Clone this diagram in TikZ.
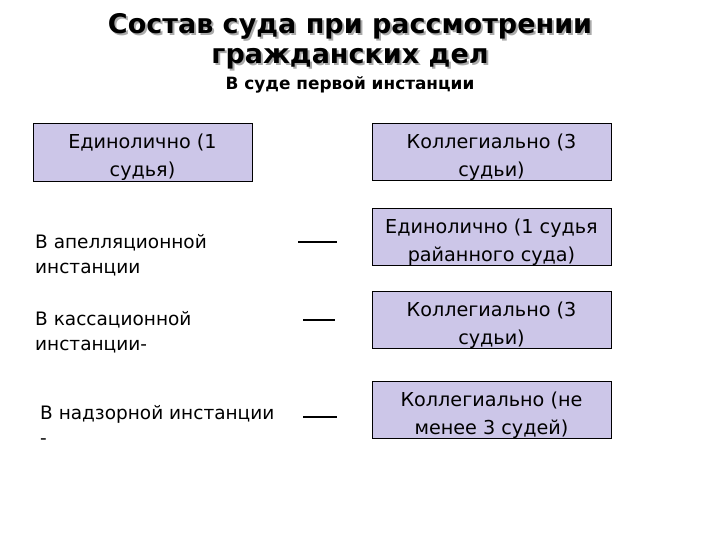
\documentclass[tikz,border=0pt]{standalone}
\usepackage{fontspec}
\setmainfont{DejaVu Sans}
\definecolor{boxfill}{RGB}{204,198,232}
\definecolor{shadowgray}{RGB}{170,170,170}
\newcommand{\cellstrut}{\rule{0pt}{25pt}}
\begin{document}
\begin{tikzpicture}[x=1pt,y=-1pt,
  cell/.style={draw=black, line width=0.9pt, fill=boxfill, minimum width=239pt,
    minimum height=56pt, align=center, inner sep=0pt,
    font=\fontsize{19.2}{28}\selectfont},
  side/.style={anchor=west, align=left, inner sep=0pt,
    font=\fontsize{18.5}{25}\selectfont},
  dashline/.style={line width=2.2pt},
  ttl/.style={align=center, inner sep=0pt, font=\bfseries\fontsize{27}{30}\selectfont},
  sub/.style={inner sep=0pt, font=\bfseries\fontsize{16.9}{20}\selectfont}]
\useasboundingbox[fill=white] (0,0) rectangle (720,540);

% title with shadow
\node[ttl, text=shadowgray] (titleshadow) at (352,43) {Состав суда при рассмотрении\\гражданских дел};
\node[ttl] (title) at (350,41) {Состав суда при рассмотрении\\гражданских дел};
\node[sub, anchor=base] (subtitle) at (350,90) {В суде первой инстанции};

% boxes
\node[cell, minimum width=219pt, minimum height=58pt] (b1) at (142.5,152) {\cellstrut Единолично (1\\судья)};
\node[cell, minimum height=57pt] (b2) at (491.5,151.5) {\cellstrut Коллегиально (3\\судьи)};
\node[cell, minimum height=55pt] (b3) at (491.5,236.5) {\cellstrut Единолично (1 судья\\райанного суда)};
\node[cell] (b4) at (491.5,320) {\cellstrut Коллегиально (3\\судьи)};
\node[cell] (b5) at (491.5,410) {\cellstrut Коллегиально (не\\менее 3 судей)};

% left labels
\node[side] (l1) at (35,255) {В апелляционной\\инстанции};
\node[side] (l2) at (35,332.5) {В кассационной\\инстанции-};
\node[side] (l3) at (40,425) {В надзорной инстанции\\-};

% dashes
\coordinate (d1a) at (298,242); \coordinate (d1b) at (337,242);
\coordinate (d2a) at (303,320); \coordinate (d2b) at (335,320);
\coordinate (d3a) at (303,417); \coordinate (d3b) at (337,417);
\draw[dashline] (d1a) -- (d1b);
\draw[dashline] (d2a) -- (d2b);
\draw[dashline] (d3a) -- (d3b);
\end{tikzpicture}
\end{document}
